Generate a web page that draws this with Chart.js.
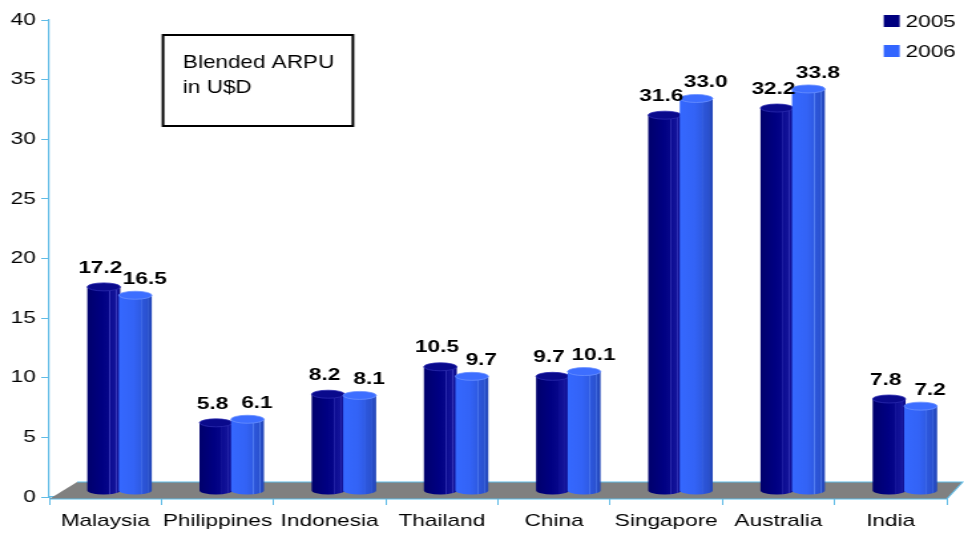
<!DOCTYPE html>
<html>
<head>
<meta charset="utf-8">
<script src="https://cdn.jsdelivr.net/npm/chart.js@4.4.1/dist/chart.umd.min.js"></script>
<style>
  html, body { margin: 0; padding: 0; background: #fff; overflow: hidden; }
  /* the chart is laid out narrow and widened horizontally */
  #wrap { position: absolute; left: 0; top: 0; width: 725px; height: 533px;
          transform: scaleX(1.3297); transform-origin: 0 0; }
</style>
</head>
<body>
<div id="wrap"><canvas id="c"></canvas></div>
<script>
// ---- data ----
const categories = ['Malaysia', 'Philippines', 'Indonesia', 'Thailand', 'China', 'Singapore', 'Australia', 'India'];
const seriesNames = ['2005', '2006'];
const arpu2005 = [17.2, 5.8, 8.2, 10.5, 9.7, 31.6, 32.2, 7.8];
const arpu2006 = [16.5, 6.1, 8.1, 9.7, 10.1, 33.0, 33.8, 7.2];
const yTickValues = [0, 5, 10, 15, 20, 25, 30, 35, 40];
const noteLines = ['Blended ARPU', 'in U$D'];

// ---- styling ----
const FONT = '"Liberation Sans", Arial, Helvetica, sans-serif';
const AXIS = '#5fbbe6';
const SHIFT = 10.7;          // cylinders sit slightly right of the category centre (3D depth)
const LABEL_DX = [-2.6, 7.1];
const LABEL_DY = [-19, -16];

const palettes = [
  { legend: '#000080', top: '#0a0a8c', rim: '#2c2cae',
    stops: [[0, '#00006c'], [0.45, '#000082'], [0.66, '#06068a'], [0.68, '#3434b4'], [0.70, '#0c0c92'],
            [0.86, '#14149a'], [0.88, '#3c3cbc'], [0.90, '#12129a'], [1, '#0a0a84']] },
  { legend: '#3366ff', top: '#3d6eff', rim: '#6a90ff',
    stops: [[0, '#3568ff'], [0.45, '#3363f6'], [0.66, '#2f5be4'], [0.68, '#5580f2'], [0.70, '#2d57dc'],
            [0.86, '#2a51cf'], [0.88, '#4a74e4'], [0.90, '#284dc6'], [1, '#2347b8']] }
];

function drawCylinder(ctx, el, pal) {
  const { x, y, base, width } = el.getProps(['x', 'y', 'base', 'width'], true);
  const cx = x + SHIFT, rx = width / 2, ry = 4;
  const top = y - 5, bot = base - 6;
  const g = ctx.createLinearGradient(cx - rx, 0, cx + rx, 0);
  pal.stops.forEach(([o, c]) => g.addColorStop(o, c));
  ctx.beginPath();
  ctx.moveTo(cx - rx, top);
  ctx.lineTo(cx - rx, bot);
  ctx.ellipse(cx, bot, rx, ry, 0, Math.PI, 0, true);
  ctx.lineTo(cx + rx, top);
  ctx.closePath();
  ctx.fillStyle = g;
  ctx.fill();
  ctx.beginPath();
  ctx.ellipse(cx, top, rx, ry, 0, 0, Math.PI * 2);
  ctx.fillStyle = pal.top;
  ctx.fill();
  ctx.strokeStyle = pal.rim;
  ctx.lineWidth = 0.8;
  ctx.stroke();
}

const cylinderPlugin = {
  id: 'cylinders',
  beforeDatasetsDraw(chart) {
    const { ctx, chartArea: ca } = chart;
    const y0 = chart.scales.y.getPixelForValue(0);
    ctx.save();
    // grey floor
    ctx.beginPath();
    ctx.moveTo(ca.left, y0 + 2);
    ctx.lineTo(ca.left + 21, y0 - 15);
    ctx.lineTo(ca.right + 12, y0 - 15);
    ctx.lineTo(ca.right, y0 + 2);
    ctx.closePath();
    ctx.fillStyle = '#808080';
    ctx.fill();
    ctx.beginPath();
    ctx.moveTo(ca.left + 21, y0 - 15);
    ctx.lineTo(ca.right + 12, y0 - 15);
    ctx.lineTo(ca.right, y0 + 2);
    ctx.lineTo(ca.left, y0 + 2);
    ctx.strokeStyle = AXIS;
    ctx.lineWidth = 1.2;
    ctx.stroke();

    // cylinders
    const metas = chart.data.datasets.map((d, i) => chart.getDatasetMeta(i));
    for (let j = 0; j < categories.length; j++) {
      metas.forEach((meta, i) => drawCylinder(ctx, meta.data[j], palettes[i]));
    }

    // value labels
    ctx.font = `bold 17px ${FONT}`;
    ctx.fillStyle = '#000';
    ctx.textAlign = 'center';
    ctx.textBaseline = 'middle';
    metas.forEach((meta, i) => {
      meta.data.forEach((el, j) => {
        const v = chart.data.datasets[i].data[j];
        ctx.fillText(v.toFixed(1), el.x + SHIFT + LABEL_DX[i], el.y - 5 + LABEL_DY[i]);
      });
    });
    ctx.restore();
    return false;
  },
  afterDraw(chart) {
    const ctx = chart.ctx;
    ctx.save();
    // legend
    ctx.font = `17px ${FONT}`;
    ctx.textAlign = 'left';
    ctx.textBaseline = 'middle';
    chart.data.datasets.forEach((ds, i) => {
      const cy = 21 + i * 30;
      ctx.fillStyle = palettes[i].legend;
      ctx.fillRect(664.6, cy - 6, 12, 12);
      ctx.fillStyle = '#000';
      ctx.fillText(ds.label, 681, cy + 1);
    });
    // note box
    ctx.strokeStyle = '#000';
    ctx.lineWidth = 2;
    ctx.strokeRect(122.6, 35, 142.8, 91);
    ctx.fillStyle = '#000';
    ctx.textBaseline = 'alphabetic';
    ctx.font = `19px ${FONT}`;
    noteLines.forEach((t, k) => {
      ctx.save();
      ctx.translate(137.6, 68 + k * 25);
      ctx.scale(0.89, 1);
      ctx.fillText(t, 0, 0);
      ctx.restore();
    });
    ctx.restore();
  }
};

new Chart(document.getElementById('c'), {
  type: 'bar',
  data: {
    labels: categories,
    datasets: [
      { label: seriesNames[0], data: arpu2005, backgroundColor: palettes[0].legend },
      { label: seriesNames[1], data: arpu2006, backgroundColor: palettes[1].legend }
    ]
  },
  options: {
    responsive: true,
    maintainAspectRatio: false,
    animation: false,
    events: [],
    layout: { padding: { top: 20, right: 13, left: 0, bottom: 0 } },
    datasets: { bar: { categoryPercentage: 0.562, barPercentage: 1.046 } },
    plugins: { legend: { display: false }, tooltip: { enabled: false } },
    scales: {
      x: {
        grid: { drawOnChartArea: false, drawTicks: true, tickLength: 8, color: AXIS, offset: true },
        border: { display: true, color: AXIS, width: 1.2 },
        ticks: { font: { family: FONT, size: 17 }, color: '#000', padding: 6, maxRotation: 0, autoSkip: false },
        afterFit(s) { s.height = 36; }
      },
      y: {
        min: 0, max: 40,
        afterBuildTicks(s) { s.ticks = yTickValues.map(v => ({ value: v })); },
        grid: { drawOnChartArea: false, drawTicks: true, tickLength: 6, color: AXIS },
        border: { display: true, color: AXIS, width: 1.2 },
        ticks: { font: { family: FONT, size: 17 }, color: '#000', padding: 4 },
        afterFit(s) { s.width = 37; }
      }
    }
  },
  plugins: [cylinderPlugin]
});
</script>
</body>
</html>
